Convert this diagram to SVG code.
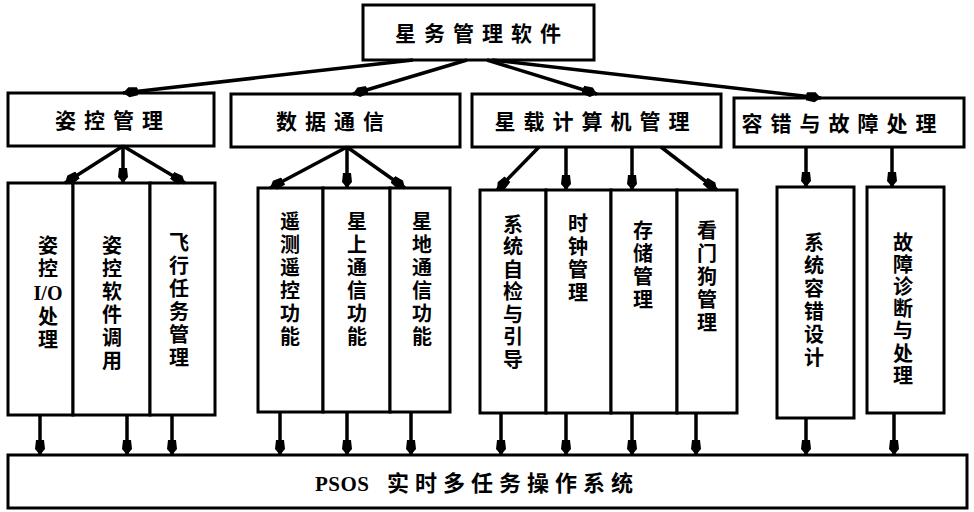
<svg xmlns="http://www.w3.org/2000/svg" width="974" height="512" viewBox="0 0 974 512">
<defs>
<marker id="ah" markerUnits="userSpaceOnUse" markerWidth="16" markerHeight="12" refX="15" refY="6" orient="auto">
<path d="M0,2 L9,1 L15,6 L9,11 L0,10 Z" fill="#000"/>
</marker>
<style>
rect{fill:#fff;stroke:#000;stroke-width:3}
.c line{stroke:#000;stroke-width:3.5;marker-end:url(#ah)}
text{font-family:"Noto Sans CJK SC","Noto Sans CJK JP",sans-serif;font-weight:bold;fill:#000;text-anchor:middle}
.h{font-size:21px;letter-spacing:8px}
.v{font-size:20px;letter-spacing:3px;writing-mode:vertical-rl;text-anchor:start}
.io{font-family:"Liberation Serif",serif;font-size:20px}
.b{font-family:"Liberation Serif","Noto Sans CJK SC",serif;font-size:22px;letter-spacing:6px;text-anchor:start}
</style>
</defs>
<rect width="974" height="512" style="fill:#fff;stroke:none"/>

<g id="top"><rect x="363" y="5" width="231" height="55"/><text class="h" x="482" y="41">星务管理软件</text></g>

<g id="n1"><rect x="8" y="93" width="206" height="53"/><text class="h" x="113" y="128">姿控管理</text></g>
<g id="n2"><rect x="231" y="94" width="229" height="53"/><text class="h" x="334" y="129">数据通信</text></g>
<g id="n3"><rect x="472" y="94" width="249" height="53"/><text class="h" x="596" y="129">星载计算机管理</text></g>
<g id="n4"><rect x="734" y="98" width="230" height="49"/><text class="h" x="843" y="131">容错与故障处理</text></g>

<g id="a1"><rect x="8" y="183" width="65" height="232"/>
<text class="v" x="48" y="235">姿控</text><text class="io" x="48" y="300">I/O</text><text class="v" x="48" y="306">处理</text></g>
<g id="a2"><rect x="73" y="183" width="77" height="232"/>
<text class="v" x="112" y="235">姿控软件调用</text></g>
<g id="a3"><rect x="150" y="183" width="65" height="232"/>
<text class="v" x="179" y="232">飞行任务管理</text></g>

<g id="b1"><rect x="258" y="188" width="65" height="224"/>
<text class="v" x="290" y="211">遥测遥控功能</text></g>
<g id="b2"><rect x="323" y="188" width="67" height="224"/>
<text class="v" x="357" y="211">星上通信功能</text></g>
<g id="b3"><rect x="390" y="188" width="60" height="224"/>
<text class="v" x="422" y="211">星地通信功能</text></g>

<g id="c1"><rect x="480" y="190" width="66" height="223"/>
<text class="v" x="513" y="214" style="letter-spacing:2.5px">系统自检与引导</text></g>
<g id="c2"><rect x="546" y="190" width="65" height="223"/>
<text class="v" x="578" y="213">时钟管理</text></g>
<g id="c3"><rect x="611" y="190" width="66" height="223"/>
<text class="v" x="643" y="220">存储管理</text></g>
<g id="c4"><rect x="677" y="190" width="60" height="223"/>
<text class="v" x="707" y="220">看门狗管理</text></g>

<g id="d1"><rect x="777" y="187" width="77" height="231"/>
<text class="v" x="814" y="232">系统容错设计</text></g>
<g id="d2"><rect x="867" y="187" width="77" height="226"/>
<text class="v" x="903" y="232" style="letter-spacing:2.2px">故障诊断与处理</text></g>

<g id="os"><rect x="8" y="455" width="959" height="53"/><text class="b" x="315" y="491"><tspan style="letter-spacing:0.5px;font-size:21px">PSOS </tspan><tspan x="387">实时多任务操作系统</tspan></text></g>

<g class="c" id="connectors">
<line x1="413" y1="60" x2="123" y2="93"/>
<line x1="467" y1="60" x2="353" y2="94"/>
<line x1="487" y1="60" x2="597" y2="94"/>
<line x1="492" y1="60" x2="821" y2="98"/>

<line x1="123" y1="146" x2="65" y2="183"/>
<line x1="123" y1="146" x2="123" y2="183"/>
<line x1="123" y1="146" x2="185" y2="183"/>
<line x1="347" y1="147" x2="270" y2="188"/>
<line x1="347" y1="147" x2="347" y2="188"/>
<line x1="347" y1="147" x2="405" y2="188"/>
<line x1="539" y1="147" x2="497" y2="190"/>
<line x1="566" y1="147" x2="566" y2="190"/>
<line x1="632" y1="147" x2="632" y2="190"/>
<line x1="661" y1="147" x2="717" y2="190"/>
<line x1="806" y1="147" x2="806" y2="187"/>
<line x1="892" y1="147" x2="892" y2="187"/>

<line x1="40" y1="415" x2="40" y2="455"/>
<line x1="127" y1="415" x2="127" y2="455"/>
<line x1="172" y1="415" x2="172" y2="455"/>
<line x1="280" y1="412" x2="280" y2="455"/>
<line x1="347" y1="412" x2="347" y2="455"/>
<line x1="411" y1="412" x2="411" y2="455"/>
<line x1="501" y1="413" x2="501" y2="455"/>
<line x1="566" y1="413" x2="566" y2="455"/>
<line x1="632" y1="413" x2="632" y2="455"/>
<line x1="696" y1="413" x2="696" y2="455"/>
<line x1="806" y1="418" x2="806" y2="455"/>
<line x1="894" y1="413" x2="894" y2="455"/>
</g>
</svg>
